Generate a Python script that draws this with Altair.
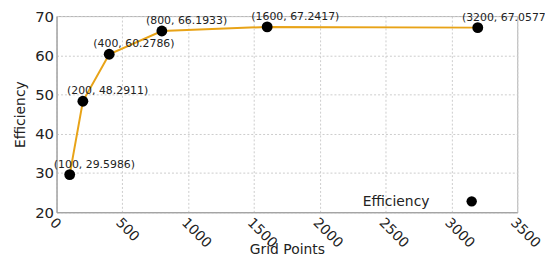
import altair as alt
import pandas as pd

grid_points = [100, 200, 400, 800, 1600, 3200]
efficiency = [29.5986, 48.2911, 60.2786, 66.1933, 67.2417, 67.0577]
labels = ["(100, 29.5986)", "(200, 48.2911)", "(400, 60.2786)",
          "(800, 66.1933)", "(1600, 67.2417)", "(3200, 67.0577)"]
x_ticks = [0, 500, 1000, 1500, 2000, 2500, 3000, 3500]
y_ticks = [20, 30, 40, 50, 60, 70]

df = pd.DataFrame({"x": grid_points, "y": efficiency, "label": labels})
FONT = "DejaVu Sans"

xenc = alt.X("x:Q", scale=alt.Scale(domain=[0, 3500], nice=False),
             axis=alt.Axis(title="Grid Points", values=x_ticks, format="d",
                           tickCount=len(x_ticks),
                           labelAngle=45, labelAlign="left", labelBaseline="top",
                           labelPadding=3, labelFontSize=14, titleFontSize=14,
                           titleY=31, titleBaseline="top", labelFont=FONT,
                           titleFont=FONT, labelFlush=False, labelOverlap=False))
yenc = alt.Y("y:Q", scale=alt.Scale(domain=[20, 70], nice=False),
             axis=alt.Axis(title="Efficiency", values=y_ticks, tickCount=len(y_ticks),
                           labelFontSize=15,
                           titleFontSize=14, labelFont=FONT, titleFont=FONT,
                           labelPadding=3, titlePadding=7, labelFlush=False,
                           labelOverlap=False))

base = alt.Chart(df)
line = base.mark_line(color="#E8A317", strokeWidth=2).encode(x=xenc, y=yenc)
pts = base.mark_circle(color="black", size=120, opacity=1).encode(x="x:Q", y="y:Q")
txt = base.mark_text(align="left", baseline="middle", dx=-16, dy=-10,
                     fontSize=11, font=FONT, color="#222").encode(
    x="x:Q", y="y:Q", text="label:N")

leg_df = pd.DataFrame({"name": ["Efficiency"]})
leg_txt = alt.Chart(leg_df).mark_text(align="left", baseline="middle", fontSize=14,
                                      font=FONT, color="#222").encode(
    x=alt.value(309), y=alt.value(188), text="name:N")
leg_pt = alt.Chart(leg_df).mark_circle(color="black", size=110, opacity=1).encode(
    x=alt.value(419), y=alt.value(187))

chart = alt.layer(line, pts, txt, leg_txt, leg_pt).properties(
    width=465, height=198,
    autosize=alt.AutoSizeParams(type="none"),
    padding={"left": 49, "top": 7, "right": 28, "bottom": 44},
).configure_view(stroke="#b0b0b0", strokeWidth=1).configure_axis(
    gridColor="#cccccc", gridDash=[2, 2], gridWidth=1,
    domainColor="#999999", ticks=False,
    labelColor="#222", titleColor="#222", titleFontWeight="normal",
)

chart.save("out.html", embed_options={"renderer": "svg", "actions": False})
